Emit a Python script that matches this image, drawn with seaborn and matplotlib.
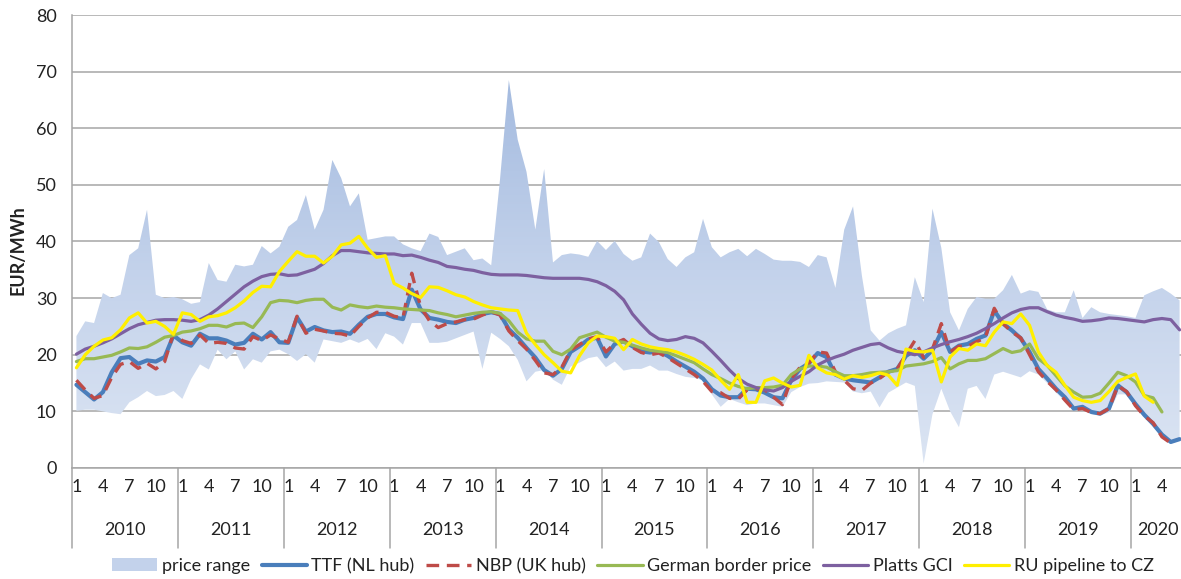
import numpy as np
import pandas as pd
import matplotlib
matplotlib.use('Agg')
import matplotlib.pyplot as plt
import seaborn as sns
from matplotlib.colors import LinearSegmentedColormap
from matplotlib.lines import Line2D
from matplotlib.patches import Patch

# monthly prices, Jan 2010 - Jun 2020 (EUR/MWh)
years = [2010, 2011, 2012, 2013, 2014, 2015, 2016, 2017, 2018, 2019, 2020]
months = list(range(1, 13)) * 10 + [1, 2, 3, 4, 5, 6]

range_low = [
    10.1, 10.3, 10.3, 10.0, 9.7, 9.5, 11.6, 12.5, 13.6, 12.7, 12.9, 13.6,
    12.2, 15.7, 18.3, 17.4, 20.9, 19.2, 20.6, 17.4, 19.2, 18.6, 20.6, 20.9,
    20.1, 18.9, 20.1, 18.6, 22.7, 22.4, 22.1, 22.7, 22.1, 22.8, 21.0, 23.8,
    23.2, 21.8, 25.6, 25.6, 22.1, 22.1, 22.3, 22.9, 23.5, 24.1, 17.5, 23.9,
    22.8, 21.5, 19.1, 15.3, 17.0, 17.3, 15.6, 14.7, 17.9, 18.6, 19.4, 19.7,
    17.8, 18.8, 17.2, 17.5, 17.5, 18.1, 17.2, 17.2, 16.6, 16.1, 15.9, 15.5,
    13.0, 10.8, 12.2, 11.6, 11.1, 11.4, 11.4, 11.1, 10.8, 13.4, 14.3, 14.9,
    15.0, 15.3, 15.2, 15.1, 13.5, 13.2, 13.5, 10.7, 13.3, 14.2, 15.1, 14.5,
    0.8, 9.5, 14.0, 10.0, 7.2, 14.0, 14.5, 12.2, 16.5, 17.0, 16.5, 16.0,
    17.1, 16.5, 15.0, 13.3, 11.8, 10.2, 10.3, 9.5, 9.3, 9.8, 13.0, 13.0,
    10.8, 8.9, 7.3, 5.5, 4.3, 4.8]

range_high = [
    23.3, 25.9, 25.6, 30.9, 30.0, 30.6, 37.6, 38.8, 45.6, 30.6, 30.0, 30.2,
    29.8, 29.0, 29.3, 36.2, 33.2, 32.9, 35.9, 35.6, 35.9, 39.2, 37.9, 39.1,
    42.6, 43.8, 48.2, 42.1, 45.6, 54.4, 51.2, 46.2, 48.5, 40.3, 40.6, 40.9,
    40.9, 39.5, 38.8, 38.3, 41.4, 40.8, 37.6, 38.2, 38.8, 36.7, 37.0, 35.8,
    51.0, 68.5, 58.0, 52.3, 42.1, 52.8, 36.3, 37.6, 37.9, 37.7, 37.3, 40.1,
    38.5, 40.1, 37.8, 36.6, 37.2, 41.4, 39.9, 36.9, 35.5, 37.2, 38.1, 44.0,
    39.0, 37.2, 38.1, 38.7, 37.4, 38.7, 37.8, 36.8, 36.6, 36.6, 36.4, 35.5,
    37.6, 37.2, 31.8, 42.1, 46.2, 34.0, 24.3, 22.5, 23.8, 24.6, 25.2, 33.7,
    29.3, 45.8, 38.9, 27.5, 24.3, 28.1, 30.2, 29.9, 29.9, 31.4, 34.1, 30.8,
    31.4, 31.1, 28.0, 27.5, 27.5, 31.4, 26.5, 28.4, 27.5, 27.2, 27.0, 26.8,
    26.5, 30.5, 31.2, 31.8, 30.8, 29.6]

ttf = [
    14.7, 13.4, 12.1, 13.4, 16.9, 19.4, 19.6, 18.4, 19.0, 18.8, 19.6, 23.4,
    22.2, 21.6, 23.7, 22.9, 22.9, 22.5, 21.8, 22.1, 23.7, 22.7, 24.0, 22.2,
    22.1, 26.6, 24.1, 24.9, 24.3, 24.0, 24.1, 23.7, 25.3, 26.7, 27.2, 27.2,
    26.6, 26.3, 31.5, 28.0, 26.5, 26.2, 25.8, 25.6, 26.2, 26.5, 27.2, 27.5,
    27.2, 24.5, 23.0, 21.2, 19.5, 17.3, 16.3, 17.5, 20.5, 21.5, 22.7, 23.0,
    19.7, 21.9, 22.4, 21.5, 20.6, 20.4, 20.6, 19.8, 18.8, 17.9, 17.0, 15.8,
    13.9, 12.8, 12.5, 12.5, 14.0, 13.9, 13.3, 12.5, 12.3, 15.5, 17.5, 18.5,
    20.3, 19.6, 16.5, 15.8, 15.5, 15.3, 15.1, 16.0, 17.0, 17.5, 19.8, 20.8,
    19.3, 20.8, 24.0, 20.5, 21.6, 21.9, 22.8, 23.4, 27.8, 25.5, 24.3, 22.9,
    20.5, 17.5, 15.8, 14.0, 12.5, 10.5, 10.8, 9.9, 9.6, 10.5, 14.6, 13.4,
    11.3, 9.4, 7.8, 5.9, 4.6, 5.1]

nbp = [
    15.5, 13.8, 12.3, 12.8, 16.0, 18.3, 18.8, 17.6, 18.5, 17.5, 18.8, 23.8,
    22.5, 22.0, 23.5, 22.0, 22.2, 22.0, 21.2, 21.0, 23.2, 22.5, 23.5, 22.8,
    22.2, 26.8, 23.8, 24.5, 24.2, 23.8, 23.7, 23.3, 25.0, 26.5, 27.5, 27.5,
    26.8, 26.5, 34.4, 28.5, 26.0, 24.8, 25.5, 25.8, 26.2, 26.3, 27.0, 27.6,
    27.0, 24.2, 22.5, 21.0, 19.0, 16.8, 16.5, 17.8, 20.8, 21.8, 22.8, 23.2,
    20.5, 22.0, 22.7, 21.3, 20.4, 20.0, 20.3, 19.5, 18.5, 17.5, 16.5, 15.3,
    13.5, 13.3, 12.3, 12.2, 13.8, 14.0, 13.8, 12.5, 11.2, 15.8, 17.8, 18.5,
    20.5, 20.3, 17.0, 15.5, 14.0, 13.7, 15.0, 15.8, 17.0, 17.5, 20.0, 22.5,
    19.5, 21.0, 25.5, 20.5, 21.5, 21.5, 22.3, 23.0, 28.2, 25.5, 24.0, 23.0,
    20.0, 17.0, 15.3, 13.8, 12.0, 10.3, 10.5, 9.8, 9.6, 10.5, 14.5, 13.5,
    11.0, 9.2, 8.0, 5.5, 4.4, np.nan]

german = [
    18.8, 19.3, 19.3, 19.6, 19.9, 20.5, 21.2, 21.1, 21.4, 22.2, 23.1, 23.4,
    24.0, 24.2, 24.6, 25.2, 25.2, 24.9, 25.5, 25.6, 24.8, 26.7, 29.2, 29.6,
    29.5, 29.2, 29.6, 29.8, 29.8, 28.4, 27.9, 28.8, 28.5, 28.3, 28.6, 28.4,
    28.3, 28.1, 28.0, 27.9, 27.8, 27.4, 27.1, 26.7, 27.0, 27.3, 27.5, 27.6,
    27.3, 26.0, 24.0, 22.8, 22.4, 22.4, 20.6, 20.0, 21.0, 23.0, 23.5, 24.0,
    23.1, 22.4, 22.2, 21.7, 21.2, 20.8, 20.6, 20.4, 19.8, 19.2, 18.6, 17.5,
    16.5, 15.8, 15.0, 14.4, 14.0, 14.2, 14.2, 14.3, 14.6, 16.5, 17.5, 18.0,
    18.0, 17.8, 17.0, 16.3, 16.3, 16.5, 16.8, 16.9, 17.0, 17.2, 18.0, 18.2,
    18.4, 18.8, 19.5, 17.5, 18.4, 19.0, 19.0, 19.3, 20.2, 21.1, 20.4, 20.7,
    21.9, 19.3, 18.1, 16.3, 14.5, 13.4, 12.5, 12.6, 13.2, 15.0, 16.9, 16.3,
    15.2, 12.8, 12.4, 9.9, np.nan, np.nan]

platts = [
    20.1, 21.0, 21.5, 22.1, 22.8, 23.7, 24.6, 25.3, 25.7, 26.1, 26.2, 26.2,
    26.1, 25.9, 26.2, 27.0, 28.1, 29.4, 30.7, 32.0, 33.0, 33.8, 34.2, 34.3,
    34.0, 34.1, 34.6, 35.1, 36.1, 37.5, 38.4, 38.4, 38.2, 38.0, 37.9, 37.8,
    37.8, 37.5, 37.6, 37.2, 36.7, 36.3, 35.6, 35.4, 35.1, 34.9, 34.5, 34.2,
    34.1, 34.1, 34.1, 34.0, 33.8, 33.6, 33.5, 33.5, 33.5, 33.5, 33.3, 32.9,
    32.2, 31.2, 29.7, 27.2, 25.4, 23.8, 22.8, 22.5, 22.7, 23.2, 22.9, 22.1,
    20.6, 19.0, 17.3, 15.8, 14.8, 14.2, 13.8, 13.6, 14.2, 15.3, 16.2, 17.0,
    18.2, 19.0, 19.6, 20.1, 20.8, 21.3, 21.8, 22.0, 21.2, 20.6, 20.3, 20.0,
    20.5, 21.2, 21.8, 22.3, 22.7, 23.2, 23.8, 24.6, 25.5, 26.5, 27.4, 28.0,
    28.3, 28.3, 27.6, 27.0, 26.6, 26.3, 25.9, 26.0, 26.2, 26.5, 26.4, 26.2,
    26.0, 25.8, 26.2, 26.4, 26.2, 24.4]

ru_cz = [
    17.7, 20.0, 21.5, 22.6, 23.0, 24.4, 26.5, 27.4, 25.6, 25.9, 25.0, 23.6,
    27.4, 27.1, 25.9, 26.7, 26.9, 27.4, 28.3, 29.5, 31.0, 32.1, 32.0, 34.7,
    36.5, 38.2, 37.4, 37.4, 36.2, 37.4, 39.4, 39.7, 40.9, 38.8, 37.2, 37.5,
    32.6, 31.8, 30.8, 30.1, 32.0, 31.9, 31.3, 30.6, 30.2, 29.4, 28.8, 28.3,
    28.1, 27.9, 27.8, 23.8, 21.8, 20.0, 18.6, 17.1, 16.8, 19.8, 22.1, 23.3,
    23.2, 22.9, 20.9, 22.7, 21.9, 21.4, 21.1, 20.9, 20.5, 19.9, 19.2, 18.3,
    17.3, 15.5, 13.9, 16.5, 11.6, 11.6, 15.4, 15.9, 15.0, 14.3, 14.6, 19.9,
    17.7, 16.8, 16.5, 15.7, 16.3, 16.0, 16.3, 16.8, 16.4, 14.6, 21.0, 20.6,
    20.5, 20.8, 15.2, 19.6, 21.1, 20.8, 21.9, 21.6, 24.0, 25.8, 25.5, 27.2,
    25.2, 20.5, 18.1, 16.9, 14.6, 12.5, 11.9, 11.6, 11.9, 13.5, 15.3, 16.0,
    16.6, 12.7, 11.6, np.nan, np.nan, np.nan]

series_names = ['TTF (NL hub)', 'NBP (UK hub)', 'German border price', 'Platts GCI', 'RU pipeline to CZ']
series_colors = ['#4A7EBB', '#BE4B48', '#98B954', '#7D60A0', '#FFEF00']

x = np.arange(len(months))
df = pd.DataFrame({'x': x, 'low': range_low, 'high': range_high,
                   series_names[0]: ttf, series_names[1]: nbp, series_names[2]: german,
                   series_names[3]: platts, series_names[4]: ru_cz})

sns.set_style('white')
plt.rcParams['font.family'] = ['Lato', 'DejaVu Sans']
text_col = '#222222'
grid_col = '#A6A6A6'
fs = 13

fig = plt.figure(figsize=(11.81, 5.79), dpi=100)
ax = fig.add_axes([72 / 1181, 111 / 579, 1112 / 1181, 453 / 579])

# price range band with vertical gradient
band = ax.fill_between(df['x'], df['low'], df['high'], facecolor='none', edgecolor='none')
cmap = LinearSegmentedColormap.from_list('rng', ['#DCE5F3', '#C3D2EB', '#A3BADF'])
grad = np.linspace(0, 1, 256).reshape(-1, 1)
im = ax.imshow(grad, extent=[-0.5, len(x) - 0.5, 0, 70], origin='lower', aspect='auto',
               cmap=cmap, zorder=1, interpolation='bilinear')
im.set_clip_path(band.get_paths()[0], transform=ax.transData)

lw = {series_names[0]: 3.0, series_names[1]: 2.4, series_names[2]: 2.3,
      series_names[3]: 2.3, series_names[4]: 2.3}
for name, col in zip(series_names, series_colors):
    ls = (0, (3.8, 2.3)) if name == 'NBP (UK hub)' else '-'
    sns.lineplot(data=df, x='x', y=name, color=col, lw=lw[name], linestyle=ls,
                 ax=ax, zorder=3, legend=False)

ax.set_xlim(-0.5, len(x) - 0.5)
ax.set_ylim(0, 80)
ax.set_yticks(range(0, 81, 10))
ax.yaxis.grid(True, color=grid_col, lw=1.1, zorder=0)
ax.set_axisbelow(True)
ax.set_xlabel('')
ax.set_ylabel('')

tick_pos = [i for i in x if months[i] in (1, 4, 7, 10)]
ax.set_xticks(tick_pos)
ax.set_xticklabels([str(months[i]) for i in tick_pos])
ax.tick_params(axis='x', length=0, pad=8, labelsize=fs, labelcolor=text_col)
ax.tick_params(axis='y', length=6, width=1.1, color=grid_col, pad=5, labelsize=fs, labelcolor=text_col)

for s in ['top', 'right']:
    ax.spines[s].set_visible(False)
for s in ['left', 'bottom']:
    ax.spines[s].set_color(grid_col)
    ax.spines[s].set_linewidth(1.1)

# year blocks under the month labels
trans = ax.get_xaxis_transform()
for k, yr in enumerate(years):
    start = 12 * k - 0.5
    end = min(12 * (k + 1), len(x)) - 0.5
    ax.plot([start, start], [0, -0.177], transform=trans, color=grid_col, lw=1.1, clip_on=False)
    ax.text((start + end) / 2, -0.137, str(yr), transform=trans, ha='center', va='center',
            fontsize=fs, color=text_col)

fig.text(18 / 1181, 0.568, 'EUR/MWh', rotation=90, ha='center', va='center',
         fontsize=fs, fontweight='bold', color=text_col)

handles = [Patch(facecolor='#C3D2EB', edgecolor='none')]
for name, col in zip(series_names, series_colors):
    ls = (0, (3.8, 2.3)) if name == 'NBP (UK hub)' else '-'
    handles.append(Line2D([], [], color=col, lw=lw[name], linestyle=ls))
labels = ['price range'] + series_names
fig.legend(handles, labels, loc='center', bbox_to_anchor=(633 / 1181, 13 / 579), ncol=6,
           frameon=False, fontsize=fs, handlelength=2.5, handletextpad=0.25,
           columnspacing=0.65, labelcolor=text_col)

fig.savefig('out.png', dpi=100)
